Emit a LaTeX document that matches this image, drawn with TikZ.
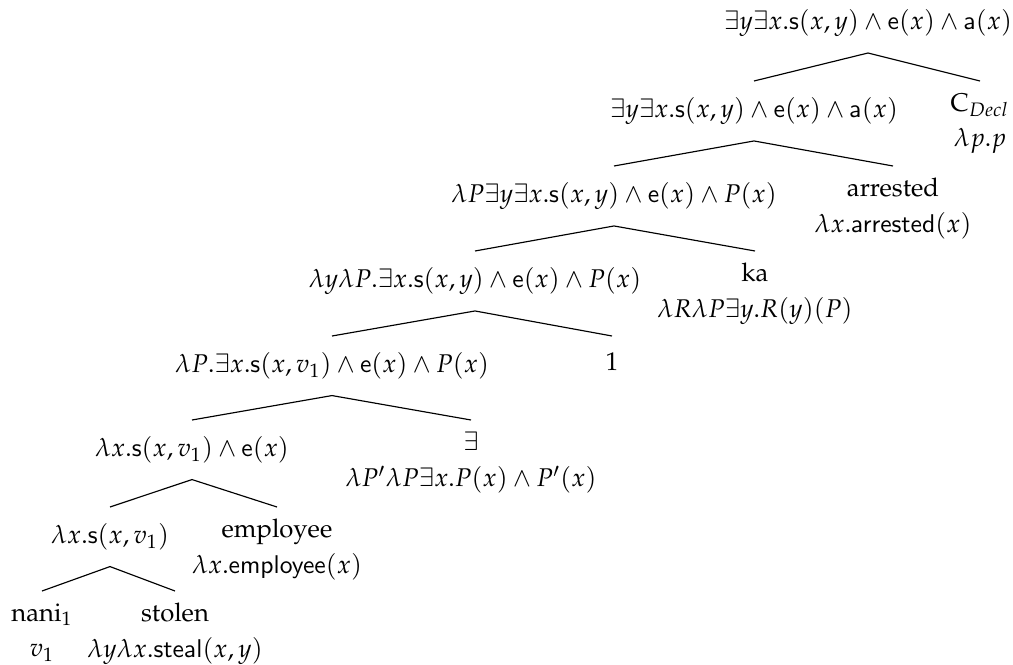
\documentclass[tikz,border=0pt]{standalone}
\usepackage[T1]{fontenc}
\usepackage{mathpazo}
\newcommand{\fsf}[1]{\mathsf{#1}}
\tikzset{
  tn/.style={anchor=north, inner xsep=2pt, inner ysep=6.4pt, outer sep=0pt, align=center,
             font=\fontsize{10}{14}\selectfont},
  lf/.style={tn, inner ysep=4.8pt},
  br/.style={line width=0.45pt}
}
\begin{document}
\begin{tikzpicture}[x=0.39pt,y=-0.39pt]
\useasboundingbox (0,0) rectangle (1013,664);
\node[tn, anchor=south] (n0) at (868,53) {$\exists y\exists x.\fsf{s}(x,y)\wedge\fsf{e}(x)\wedge\fsf{a}(x)$};
\node[tn] (n1) at (754,81) {$\exists y\exists x.\fsf{s}(x,y)\wedge\fsf{e}(x)\wedge\fsf{a}(x)$};
\node[lf] (c1) at (980,81) {C$_{Decl}$\\ $\lambda p.p$};
\node[tn] (n2) at (614,166) {$\lambda P\exists y\exists x.\fsf{s}(x,y)\wedge\fsf{e}(x)\wedge P(x)$};
\node[lf] (c2) at (893,166) {arrested\\ $\lambda x.\fsf{arrested}(x)$};
\node[tn] (n3) at (475,251) {$\lambda y\lambda P.\exists x.\fsf{s}(x,y)\wedge\fsf{e}(x)\wedge P(x)$};
\node[lf] (c3) at (755,251) {ka\\ $\lambda R\lambda P\exists y.R(y)(P)$};
\node[tn] (n4) at (332,336) {$\lambda P.\exists x.\fsf{s}(x,v_1)\wedge\fsf{e}(x)\wedge P(x)$};
\node[tn] (c4) at (612,336) {\vphantom{(}1};
\node[tn] (n5) at (192,420) {$\lambda x.\fsf{s}(x,v_1)\wedge\fsf{e}(x)$};
\node[lf] (c5) at (471,420) {$\exists$\\ $\lambda P'\lambda P\exists x.P(x)\wedge P'(x)$};
\node[tn] (n6) at (110,507) {$\lambda x.\fsf{s}(x,v_1)$};
\node[lf] (c6) at (277,507) {employee\\ $\lambda x.\fsf{employee}(x)$};
\node[lf] (c7) at (42,591) {nani$_1$\\ $v_1$};
\node[lf] (c8) at (175,591) {stolen\\ $\lambda y\lambda x.\fsf{steal}(x,y)$};
\draw[br] (n1.north) -- (n0.south) -- (c1.north);
\draw[br] (n2.north) -- (n1.south) -- (c2.north);
\draw[br] (n3.north) -- (n2.south) -- (c3.north);
\draw[br] (n4.north) -- (n3.south) -- (c4.north);
\draw[br] (n5.north) -- (n4.south) -- (c5.north);
\draw[br] (n6.north) -- (n5.south) -- (c6.north);
\draw[br] (c7.north) -- (n6.south) -- (c8.north);
\end{tikzpicture}
\end{document}
